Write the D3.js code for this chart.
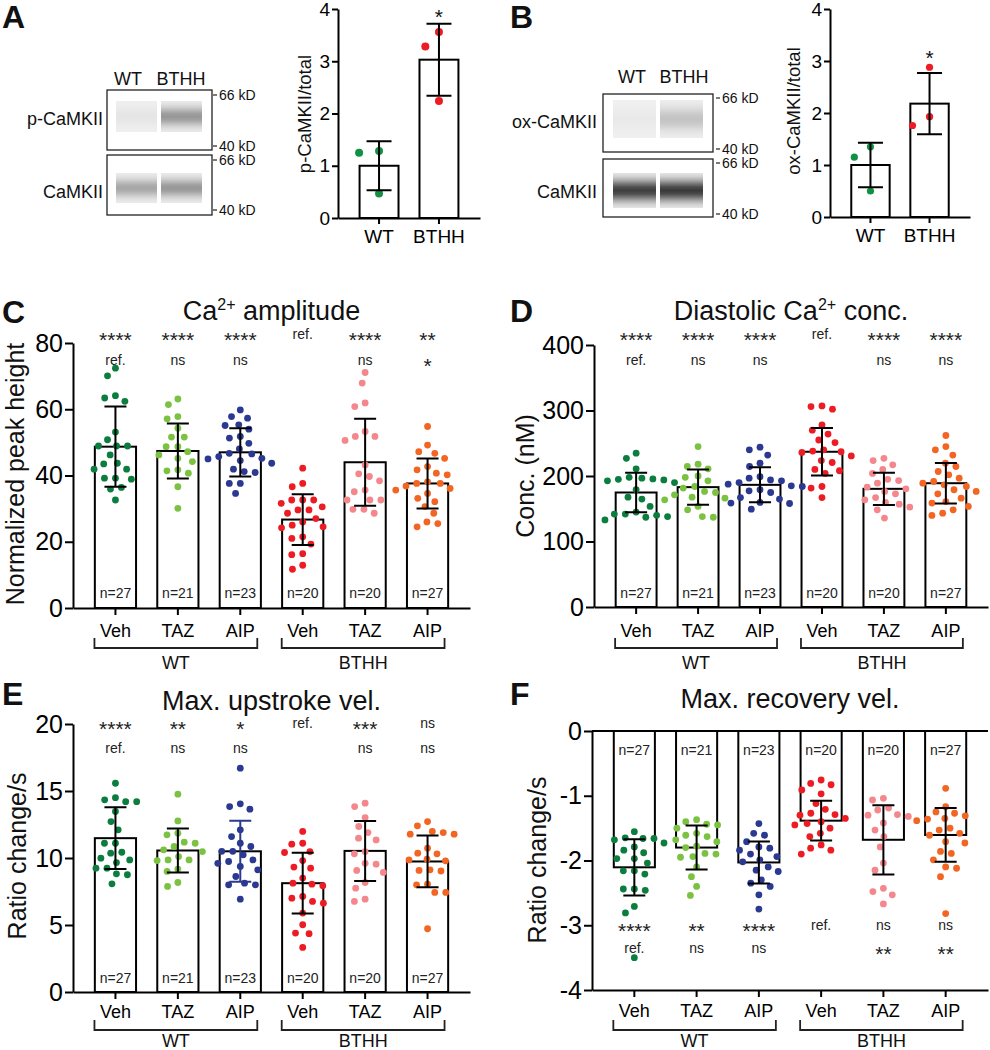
<!DOCTYPE html>
<html>
<head>
<meta charset="utf-8">
<script src="https://cdn.jsdelivr.net/npm/d3@7"></script>
<style>
  html, body { margin: 0; padding: 0; background: #fff; }
  svg { display: block; }
</style>
</head>
<body>
<div id="chart"></div>
<script>
// ---- data ----
const blotLanes = ["WT", "BTHH"];
const blotARows = ["p-CaMKII", "CaMKII"];
const blotAIntensity = [[0.05, 0.40], [0.33, 0.40]];
const blotBRows = ["ox-CaMKII", "CaMKII"];
const blotBIntensity = [[0.03, 0.20], [0.80, 0.82]];
const kdLabels = ["66 kD", "40 kD"];

const pMean = [1.0, 3.03];
const pSD = [0.47, 0.69];
const pPoints = [[1.28, 1.25, 0.47], [3.56, 3.28, 2.24]];
const oxMean = [1.0, 2.18];
const oxSD = [0.43, 0.59];
const oxPoints = [[1.35, 1.15, 0.5], [2.88, 1.93, 1.76]];

const treatments = ["Veh", "TAZ", "AIP", "Veh", "TAZ", "AIP"];
const genotypes = ["WT", "BTHH"];
const nLabels = ["n=27", "n=21", "n=23", "n=20", "n=20", "n=27"];

const ampMean = [48.7, 47.4, 47.0, 26.7, 44.0, 37.6];
const ampSD = [12.1, 8.3, 7.3, 7.65, 13.1, 7.55];
const ampPoints = [
  [72.4, 70.1, 64.1, 63.4, 62.4, 53.1, 50.8, 48.9, 48.9, 48.9, 46.2, 43.7, 43.5, 41.9, 41.9, 39.2, 39.2, 38.9, 36.4, 35.9, 32.6],
  [63.1, 61.4, 57.8, 57.1, 54.3, 51.6, 51.6, 48.7, 48.7, 47.2, 46.2, 45.2, 44.2, 41.7, 41.4, 40.7, 36.6, 30.1],
  [59.8, 57.8, 57.3, 55.3, 55.1, 54.0, 51.8, 51.3, 49.7, 48.0, 46.7, 46.5, 45.7, 45.2, 45.0, 44.5, 43.7, 41.9, 41.2, 40.9, 37.6, 37.6, 34.6],
  [42.2, 37.6, 36.6, 32.6, 32.6, 32.6, 31.6, 30.5, 29.6, 29.6, 28.6, 27.0, 26.0, 25.0, 24.5, 24.2, 21.5, 21.0, 19.3, 16.4, 16.1, 12.9, 11.7],
  [71.1, 67.9, 61.9, 60.8, 53.3, 51.8, 51.8, 50.6, 43.2, 40.5, 39.7, 38.4, 35.6, 35.1, 32.6, 32.6, 32.6, 29.8, 29.8, 28.6],
  [54.8, 49.2, 47.2, 46.7, 45.2, 42.7, 41.7, 40.7, 40.2, 38.1, 37.6, 37.6, 36.8, 36.1, 35.6, 34.6, 33.1, 32.1, 30.6, 28.6, 26.0, 25.5, 24.5]
];
const ampSig1 = ["****", "****", "****", "ref.", "****", "**"];
const ampSig2 = ["ref.", "ns", "ns", "", "ns", "*"];

const concMean = [174.8, 183, 186.5, 237, 180.4, 189];
const concSD = [30, 27, 26.75, 36.25, 24.5, 31];
const concPoints = [
  [234.8, 227, 211, 198, 196.7, 195.5, 195, 194, 192.6, 190, 179, 167.7, 164.7, 153.5, 145, 141.8, 141.8, 140, 138, 137, 133],
  [245, 218, 214.5, 211, 200, 198, 192.6, 184, 181.5, 176.4, 174.8, 171.3, 167.7, 166.2, 163.7, 153.5, 148.4, 138, 137],
  [244, 240, 232, 219.6, 214.5, 199, 196.7, 194, 192.6, 190, 187.5, 185, 184, 179, 177.4, 174.8, 167, 164.7, 159.6, 158.6, 158, 149.4],
  [307, 306, 302, 278, 270, 264, 255, 251, 240, 238, 237, 236, 230.7, 223.6, 220.6, 210, 208, 204, 184, 181.5, 167],
  [227, 223.6, 217, 210, 204, 195, 193, 189, 183, 180.4, 176.4, 172.8, 167, 163.7, 159.6, 157, 152.5, 148.4, 135.7],
  [261.8, 245, 240, 232, 219.6, 214.5, 206.9, 201.8, 196.7, 191.6, 189, 186.5, 184, 179, 176.4, 172.8, 166.2, 161, 158.6, 153.5, 148.4, 143.3, 139.8]
];
const concSig1 = ["****", "****", "****", "ref.", "****", "****"];
const concSig2 = ["ref.", "ns", "ns", "", "ns", "ns"];

const upMean = [11.48, 10.56, 10.5, 8.12, 10.53, 9.74];
const upSD = [2.3, 1.64, 2.28, 2.27, 2.24, 1.93];
const upPoints = [
  [15.58, 14.5, 14.34, 14.2, 14.2, 13.47, 12.72, 12.1, 11.1, 11.1, 10.43, 10.36, 9.99, 9.86, 9.66, 9.24, 9.24, 8.82, 8.75, 8.07],
  [14.76, 12.77, 11.85, 11.73, 11.18, 11.1, 10.86, 10.61, 10.48, 10.11, 9.86, 9.86, 9.81, 9.17, 9.0, 8.17, 7.88],
  [16.7, 14.04, 13.84, 13.64, 12.1, 11.6, 11.1, 10.86, 10.5, 10.5, 10.24, 9.86, 9.74, 9.6, 9.37, 9.12, 8.62, 8.12, 8.0, 8.0, 6.93],
  [11.98, 11.1, 11.03, 10.48, 10.41, 9.81, 9.32, 9.24, 8.5, 8.12, 8.05, 7.93, 7.13, 7.0, 6.76, 6.63, 5.89, 5.02, 4.4, 4.35, 3.33],
  [14.09, 13.84, 13.02, 12.35, 11.9, 11.48, 11.35, 10.48, 10.31, 9.6, 9.54, 9.07, 8.92, 8.17, 7.75, 6.93, 6.76],
  [12.72, 12.4, 11.98, 11.9, 11.78, 11.78, 10.73, 10.36, 10.31, 9.91, 9.86, 9.79, 9.12, 9.07, 9.03, 8.05, 8.0, 7.43, 7.43, 4.72]
];
const upSig1 = ["****", "**", "*", "ref.", "***", "ns"];
const upSig2 = ["ref.", "ns", "ns", "", "ns", "ns"];

const recMean = [-2.105, -1.80, -2.03, -1.385, -1.68, -1.606];
const recSD = [0.435, 0.34, 0.325, 0.307, 0.535, 0.415];
const recPoints = [
  [-1.555, -1.65, -1.66, -1.66, -1.68, -1.73, -1.79, -1.84, -1.88, -1.97, -1.97, -2.04, -2.16, -2.16, -2.21, -2.44, -2.44, -2.46, -2.71, -2.81, -3.5],
  [-1.37, -1.40, -1.44, -1.45, -1.50, -1.58, -1.61, -1.63, -1.68, -1.71, -1.78, -1.80, -1.89, -1.90, -1.94, -1.95, -2.1, -2.25, -2.40, -2.54],
  [-1.43, -1.58, -1.61, -1.71, -1.79, -1.81, -1.84, -1.90, -1.94, -1.99, -2.02, -2.1, -2.15, -2.17, -2.30, -2.35, -2.40, -2.53, -2.75],
  [-0.757, -0.81, -0.83, -0.91, -0.97, -1.12, -1.21, -1.27, -1.29, -1.30, -1.35, -1.40, -1.43, -1.45, -1.5, -1.58, -1.63, -1.76, -1.81, -1.84, -1.90],
  [-1.04, -1.066, -1.19, -1.22, -1.29, -1.30, -1.32, -1.42, -1.53, -1.63, -1.79, -2.04, -2.15, -2.43, -2.48, -2.53, -2.67],
  [-0.885, -1.17, -1.25, -1.27, -1.31, -1.35, -1.36, -1.385, -1.50, -1.53, -1.58, -1.61, -1.71, -1.73, -1.86, -1.89, -1.99, -2.1, -2.12, -2.25, -2.82]
];
const recSig1 = ["****", "**", "****", "ref.", "ns", "ns"];
const recSig2 = ["ref.", "ns", "ns", "", "**", "**"];

// ---- styling ----
const FONT = "'Liberation Sans', Arial, Helvetica, sans-serif";
const groupColors = ["#0b7d3e", "#7cc242", "#2b3990", "#ed1c24", "#f4878c", "#f26522"];
const smallColors = ["#129144", "#ed1c24"];

const svg = d3.select("#chart").append("svg")
  .attr("width", 990).attr("height", 1050)
  .attr("font-family", FONT);

function letter(txt, x, y) {
  svg.append("text").attr("x", x).attr("y", y)
    .attr("font-size", 32).attr("font-weight", "bold").attr("fill", "#111").text(txt);
}

// simple beeswarm: spread overlapping dots sideways, closest to centre first
function swarm(vals, y, D) {
  const pts = vals.map(v => ({ v, y: y(v) })).sort((a, b) => a.y - b.y);
  const placed = [];
  pts.forEach(p => {
    const blocks = placed.filter(q => Math.abs(q.y - p.y) < D).map(q => {
      const dx = Math.sqrt(D * D - (q.y - p.y) ** 2);
      return [q.x - dx, q.x + dx];
    });
    const cands = [0];
    blocks.forEach(b => cands.push(b[0], b[1]));
    cands.sort((a, b) => Math.abs(a) - Math.abs(b));
    for (const c of cands) {
      if (blocks.every(b => c <= b[0] + 1e-6 || c >= b[1] - 1e-6)) { p.x = c; break; }
    }
    placed.push(p);
  });
  return placed;
}

function styleAxis(sel, fs) {
  sel.select(".domain").attr("stroke", "#000").attr("stroke-width", 2);
  sel.selectAll(".tick line").attr("stroke", "#000").attr("stroke-width", 2);
  sel.selectAll(".tick text").attr("font-size", fs).attr("font-family", FONT).attr("fill", "#000");
}

// ---- western blot panels ----
function drawBlot(L, rows, intens) {
  const defs = svg.append("defs");
  L.headerX.forEach((hx, i) => {
    svg.append("text").attr("x", hx).attr("y", L.headerY).attr("text-anchor", "middle")
      .attr("font-size", 18).attr("fill", "#111").text(blotLanes[i]);
  });
  rows.forEach((label, r) => {
    const box = L.boxes[r];
    svg.append("text").attr("x", L.labelX).attr("y", box.labelY).attr("text-anchor", "end")
      .attr("font-size", 18).attr("fill", "#111").text(label);
    svg.append("rect").attr("x", L.boxX).attr("y", box.y).attr("width", L.boxW).attr("height", box.h)
      .attr("fill", "#fff").attr("stroke", "#222").attr("stroke-width", 1.3);
    L.laneX.forEach((lx, i) => {
      const id = `${L.id}-band-${r}-${i}`;
      const grad = defs.append("linearGradient").attr("id", id)
        .attr("x1", 0).attr("y1", 0).attr("x2", 0).attr("y2", 1);
      const peak = intens[r][i];
      d3.range(0, 1.0001, 0.1).forEach(o => {
        const k = peak * Math.exp(-Math.pow((o - 0.5) / L.sigma, 2));
        grad.append("stop").attr("offset", o)
          .attr("stop-color", d3.interpolateRgb("#f0f0f0", "#111")(k));
      });
      svg.append("rect").attr("x", lx).attr("y", box.laneY).attr("width", L.laneW).attr("height", box.laneH)
        .attr("fill", `url(#${id})`);
    });
    box.kdY.forEach((ky, j) => {
      svg.append("line").attr("x1", L.kdTick[0]).attr("x2", L.kdTick[1]).attr("y1", ky).attr("y2", ky)
        .attr("stroke", "#222").attr("stroke-width", 1.2);
      svg.append("text").attr("x", L.kdX).attr("y", ky + 4.5).attr("font-size", 14).attr("fill", "#111")
        .text(kdLabels[j]);
    });
  });
}

drawBlot({
  id: "a", headerX: [128, 181], headerY: 85, labelX: 103, boxX: 107, boxW: 105,
  laneX: [116, 161], laneW: 41, sigma: 0.3, kdTick: [213, 217], kdX: 219,
  boxes: [
    { y: 90, h: 60, laneY: 101, laneH: 31, labelY: 125, kdY: [95, 146] },
    { y: 155, h: 60, laneY: 173, laneH: 30, labelY: 198, kdY: [160, 210] }
  ]
}, blotARows, blotAIntensity);

drawBlot({
  id: "b", headerX: [632, 684], headerY: 83, labelX: 597, boxX: 603, boxW: 110,
  laneX: [613, 660], laneW: 43, sigma: 0.3, kdTick: [716, 720], kdX: 722,
  boxes: [
    { y: 94, h: 58, laneY: 100, laneH: 38, labelY: 128, kdY: [98, 149] },
    { y: 159, h: 58, laneY: 173, laneH: 35, labelY: 198, kdY: [163, 214] }
  ]
}, blotBRows, blotBIntensity);

// ---- small quantification bar charts (A, B) ----
function drawSmallBar(L, means, sds, points, ylabel) {
  const g = svg.append("g");
  const y = d3.scaleLinear().domain([0, 4]).range([L.y0, L.y4]);
  const x = d3.scaleBand().domain(d3.range(2)).range([L.x0, L.x1]).paddingInner(0.35).paddingOuter(0.36);
  const bw = x.bandwidth();
  g.selectAll("rect").data(means).join("rect")
    .attr("x", (d, i) => x(i)).attr("width", bw)
    .attr("y", d => y(d)).attr("height", d => y(0) - y(d))
    .attr("fill", "#fff").attr("stroke", "#000").attr("stroke-width", 2);
  points.forEach((vals, i) => {
    const cx = x(i) + bw / 2;
    g.selectAll(null).data(swarm(vals, y, 2 * L.r + 12)).join("circle")
      .attr("cx", p => cx + p.x).attr("cy", p => p.y).attr("r", L.r).attr("fill", smallColors[i]);
  });
  means.forEach((m, i) => {
    const cx = x(i) + bw / 2;
    const lo = y(m - sds[i]), hi = y(m + sds[i]);
    g.append("path").attr("d", `M${cx},${lo}V${hi}M${cx - 12.5},${lo}h25M${cx - 12.5},${hi}h25`)
      .attr("stroke", "#000").attr("stroke-width", 2).attr("fill", "none");
  });
  const ya = g.append("g").attr("transform", `translate(${L.x0},0)`)
    .call(d3.axisLeft(y).tickValues([0, 1, 2, 3, 4]).tickSize(6).tickSizeOuter(0).tickPadding(2)
      .tickFormat(d3.format("d")));
  styleAxis(ya, 19);
  const xa = g.append("g").attr("transform", `translate(0,${L.y0})`)
    .call(d3.axisBottom(x).tickSize(6).tickSizeOuter(0).tickFormat(i => blotLanes[i]));
  styleAxis(xa, 19);
  xa.selectAll(".tick text").attr("y", 25).attr("dy", 0);
  g.append("text").attr("transform", `translate(${L.ylabX},${L.ylabY}) rotate(-90)`)
    .attr("text-anchor", "middle").attr("font-size", 18.5).attr("fill", "#111").text(ylabel);
  g.append("text").attr("x", x(1) + bw / 2).attr("y", L.starY).attr("text-anchor", "middle")
    .attr("font-size", 21).attr("fill", "#111").text("*");
}

drawSmallBar({ x0: 338, x1: 480, y0: 218, y4: 9, r: 4, ylabX: 311, ylabY: 114, starY: 24 },
  pMean, pSD, pPoints, "p-CaMKII/total");
drawSmallBar({ x0: 830, x1: 970, y0: 217, y4: 9, r: 3.6, ylabX: 800, ylabY: 111, starY: 65 },
  oxMean, oxSD, oxPoints, "ox-CaMKII/total");

// ---- scatter bar panels (C-F) ----
function drawScatterPanel(L, means, sds, points, sig1, sig2, title, ylabel) {
  const g = svg.append("g");
  const y = d3.scaleLinear().domain(L.domain).range([L.yLoPx, L.yHiPx]);
  const x = d3.scaleBand().domain(d3.range(6)).range([L.x0, L.x1]).paddingInner(0.34).paddingOuter(0.35);
  const bw = x.bandwidth();
  const base = y(0);
  const cxOf = i => x(i) + bw / 2;

  g.selectAll("rect").data(means).join("rect")
    .attr("x", (d, i) => x(i)).attr("width", bw)
    .attr("y", d => Math.min(base, y(d))).attr("height", d => Math.abs(y(d) - base))
    .attr("fill", "#fff").attr("stroke", "#000").attr("stroke-width", 2);

  points.forEach((vals, i) => {
    g.selectAll(null).data(swarm(vals, y, 11)).join("circle")
      .attr("cx", p => cxOf(i) + p.x).attr("cy", p => p.y).attr("r", 3.4)
      .attr("fill", groupColors[i]);
  });

  means.forEach((m, i) => {
    const cx = cxOf(i);
    const lo = y(m - sds[i]), hi = y(m + sds[i]);
    const col = L.colorErr && L.colorErr.includes(i) ? groupColors[i] : "#000";
    g.append("path").attr("d", `M${cx},${lo}V${hi}M${cx - 11},${lo}h22M${cx - 11},${hi}h22`)
      .attr("stroke", col).attr("stroke-width", 2).attr("fill", "none");
  });

  // y axis
  const ya = g.append("g").attr("transform", `translate(${L.x0},0)`)
    .call(d3.axisLeft(y).tickValues(L.ticks).tickSize(8).tickSizeOuter(0).tickPadding(2)
      .tickFormat(d => String(d)));
  styleAxis(ya, 25);

  // x axis at the lower end of the value range
  const axisY = y(L.domain[0]);
  const xa = g.append("g").attr("transform", `translate(0,${axisY})`)
    .call(d3.axisBottom(x).tickSize(7).tickSizeOuter(0).tickFormat(i => treatments[i]));
  styleAxis(xa, 18);
  xa.selectAll(".tick text").attr("y", L.xLabY - axisY).attr("dy", 0);
  if (L.domain[1] === 0) {
    g.append("line").attr("x1", L.x0).attr("x2", L.x1).attr("y1", base).attr("y2", base)
      .attr("stroke", "#000").attr("stroke-width", 2);
  }

  // genotype brackets
  [[0, 2], [3, 5]].forEach(([a, b], k) => {
    const left = cxOf(a) - 21, right = cxOf(b) + 17;
    g.append("path").attr("d", `M${left},${L.bracketY - 10}V${L.bracketY}H${right}V${L.bracketY - 10}`)
      .attr("stroke", "#222").attr("stroke-width", 1.8).attr("fill", "none");
    g.append("text").attr("x", (left + right) / 2).attr("y", L.groupY).attr("text-anchor", "middle")
      .attr("font-size", 18).attr("fill", "#111").text(genotypes[k]);
  });

  // n labels and significance marks
  g.selectAll(".n").data(nLabels).join("text")
    .attr("x", (d, i) => cxOf(i)).attr("y", L.nY).attr("text-anchor", "middle")
    .attr("font-size", 14).attr("fill", "#222").text(d => d);
  [[sig1, L.sigY1], [sig2, L.sigY2]].forEach(([row, ry]) => {
    row.forEach((s, i) => {
      if (!s) return;
      const star = s.includes("*");
      g.append("text").attr("x", cxOf(i)).attr("y", star ? ry + 8 : ry).attr("text-anchor", "middle")
        .attr("font-size", star ? 21 : 14).attr("fill", "#222").text(s);
    });
  });

  // title with superscript parts
  const t = g.append("text").attr("x", (L.x0 + L.x1) / 2).attr("y", L.titleY)
    .attr("text-anchor", "middle").attr("font-size", 27).attr("fill", "#111");
  title.forEach((part, k) => {
    const sup = k % 2 === 1;
    t.append("tspan").attr("font-size", sup ? 16 : 27).attr("dy", sup ? -10 : (k > 0 ? 10 : 0)).text(part);
  });

  g.append("text").attr("transform", `translate(${L.ylabX},${L.ylabY}) rotate(-90)`)
    .attr("text-anchor", "middle").attr("font-size", 25).attr("fill", "#111").text(ylabel);
}

drawScatterPanel({
  x0: 73, x1: 470, domain: [0, 80], yLoPx: 608, yHiPx: 343, ticks: [0, 20, 40, 60, 80],
  titleY: 320, ylabX: 24, ylabY: 474, sigY1: 339, sigY2: 365, nY: 598,
  xLabY: 637, bracketY: 648, groupY: 669
}, ampMean, ampSD, ampPoints, ampSig1, ampSig2, ["Ca", "2+", " amplitude"], "Normalized peak height");

drawScatterPanel({
  x0: 594, x1: 988, domain: [0, 400], yLoPx: 607, yHiPx: 345, ticks: [0, 100, 200, 300, 400],
  titleY: 320, ylabX: 534, ylabY: 476, sigY1: 339, sigY2: 365, nY: 598,
  xLabY: 637, bracketY: 648, groupY: 669
}, concMean, concSD, concPoints, concSig1, concSig2, ["Diastolic Ca", "2+", " conc."], "Conc. (nM)");

drawScatterPanel({
  x0: 73, x1: 470, domain: [0, 20], yLoPx: 992, yHiPx: 724, ticks: [0, 5, 10, 15, 20],
  titleY: 710, ylabX: 26, ylabY: 856, sigY1: 728, sigY2: 753, nY: 983,
  xLabY: 1018, bracketY: 1030, groupY: 1047, colorErr: [2]
}, upMean, upSD, upPoints, upSig1, upSig2, ["Max. upstroke vel."], "Ratio change/s");

drawScatterPanel({
  x0: 592, x1: 988, domain: [-4, 0], yLoPx: 990, yHiPx: 731, ticks: [-4, -3, -2, -1, 0],
  titleY: 708, ylabX: 546, ylabY: 860, sigY1: 930, sigY2: 953, nY: 755,
  xLabY: 1017, bracketY: 1030, groupY: 1047
}, recMean, recSD, recPoints, recSig1, recSig2, ["Max. recovery vel."], "Ratio change/s");

letter("A", 2, 28);
letter("B", 510, 28);
letter("C", 2, 323);
letter("D", 510, 322);
letter("E", 2, 705);
letter("F", 510, 705);
</script>
</body>
</html>
